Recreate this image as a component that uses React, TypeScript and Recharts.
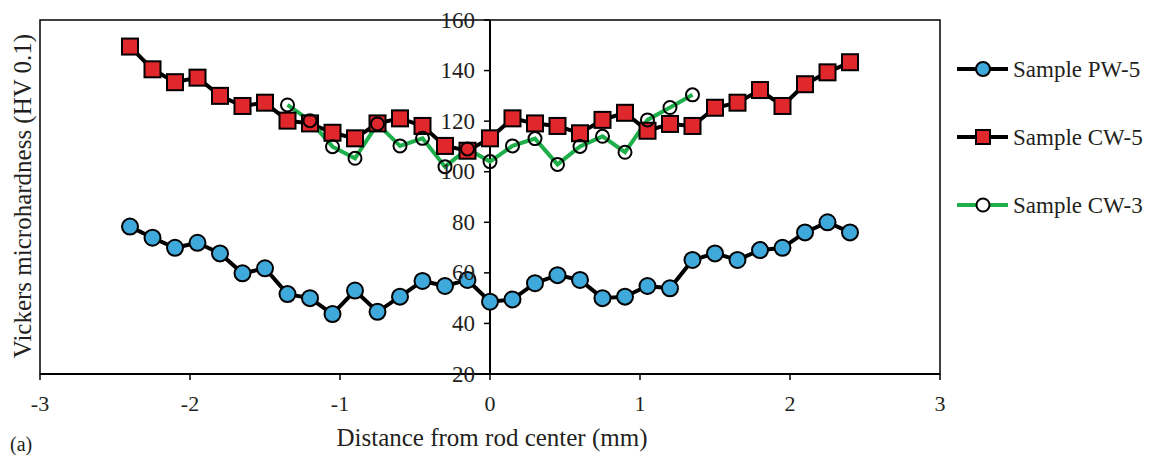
import React from "react"
import { LineChart, Line, XAxis, YAxis, ReferenceLine, ReferenceArea, Legend } from "recharts"

const FONT = "Liberation Serif, Times New Roman, serif"
const TEXT = "#231f20"

// distance from rod center (mm)
const positions = [
	-2.4, -2.25, -2.1, -1.95, -1.8, -1.65, -1.5, -1.35, -1.2, -1.05, -0.9, -0.75, -0.6, -0.45, -0.3, -0.15, 0,
	0.15, 0.3, 0.45, 0.6, 0.75, 0.9, 1.05, 1.2, 1.35, 1.5, 1.65, 1.8, 1.95, 2.1, 2.25, 2.4,
]
const pw5 = [
	78.3, 73.9, 69.9, 71.9, 67.7, 59.8, 61.8, 51.6, 50, 43.7, 53, 44.6, 50.6, 56.8, 54.8, 57.2, 48.6,
	49.5, 55.9, 59.1, 57.2, 50, 50.6, 54.8, 53.9, 65.1, 67.7, 65.1, 69, 69.9, 76, 80, 76,
]
const cw5 = [
	149.5, 140.5, 135.4, 137.2, 130, 126, 127.3, 120.2, 119.1, 115.4, 113.2, 119.1, 121.1, 118.1, 110.2, 108.3, 113.2,
	121.1, 119.1, 118.1, 115.2, 120.5, 123.3, 116.2, 118.9, 118.1, 125.3, 127.3, 132.3, 126, 134.6, 139.3, 143.3,
]
const cw3Positions = [
	-1.35, -1.2, -1.05, -0.9, -0.75, -0.6, -0.45, -0.3, -0.15, 0, 0.15, 0.3, 0.45, 0.6, 0.75, 0.9, 1.05, 1.2, 1.35,
]
const cw3 = [
	126.4, 120.2, 109.9, 105.3, 118.9, 110.2, 113.2, 102, 109, 104, 110.2, 113.1, 102.9, 110, 114, 107.7, 120.5, 125.4,
	130.4,
]

const xTicks = [-3, -2, -1, 0, 1, 2, 3]
const yTicks = [20, 40, 60, 80, 100, 120, 140, 160]

const seriesNames = ["Sample PW-5", "Sample CW-5", "Sample CW-3"]

const data = positions.map((x, i) => {
	const j = cw3Positions.indexOf(x)
	return { x, pw5: pw5[i], cw5: cw5[i], cw3: j >= 0 ? cw3[j] : undefined }
})

const BLUE = "#3fa9db"
const RED = "#e0272b"
const GREEN = "#1eae4a"

// the y axis crosses at x = 0, in the middle of the plot
const Y_AXIS_X = 490

function YTick(props: any) {
	const { y, payload } = props
	return (
		<g>
			<line x1={Y_AXIS_X - 6} x2={Y_AXIS_X} y1={y} y2={y} stroke="#000" strokeWidth={1.5} />
			<text
				x={Y_AXIS_X - 15}
				y={y}
				textAnchor="end"
				dominantBaseline="central"
				fontFamily={FONT}
				fontSize={23}
				fill={TEXT}
			>
				{payload.value}
			</text>
		</g>
	)
}

function SquareDot(props: any) {
	const { cx, cy, index } = props
	if (cx == null || cy == null) return <g key={`sq-${index}`} />
	return (
		<rect
			key={`sq-${index}`}
			x={cx - 8}
			y={cy - 8}
			width={16}
			height={16}
			fill={RED}
			stroke="#000"
			strokeWidth={2}
		/>
	)
}

function LegendBox() {
	const rows = [0, 68, 136]
	return (
		<svg width={199} height={180}>
			{seriesNames.map((name, i) => {
				const cy = 19 + rows[i]
				return (
					<g key={name}>
						<line x1={7} x2={58} y1={cy} y2={cy} stroke={i === 2 ? GREEN : "#000"} strokeWidth={4} />
						{i === 0 && <circle cx={33} cy={cy} r={7} fill={BLUE} stroke="#000" strokeWidth={2} />}
						{i === 1 && (
							<rect x={26} y={cy - 7} width={14} height={14} fill={RED} stroke="#000" strokeWidth={2} />
						)}
						{i === 2 && <circle cx={33} cy={cy} r={6.5} fill="#fff" stroke="#000" strokeWidth={2} />}
						<text x={63} y={cy} dominantBaseline="central" fontFamily={FONT} fontSize={23} fill={TEXT}>
							{name}
						</text>
					</g>
				)
			})}
		</svg>
	)
}

export default function App() {
	return (
		<div style={{ position: "absolute", left: 0, top: 0, width: 1149, height: 455, background: "#fff" }}>
			<LineChart width={1149} height={455} data={data} margin={{ top: 20, right: 209, left: 0, bottom: 41 }}>
				<XAxis
					dataKey="x"
					type="number"
					domain={[-3, 3]}
					ticks={xTicks}
					height={40}
					axisLine={{ stroke: "#000", strokeWidth: 2 }}
					tickLine={{ stroke: "#000", strokeWidth: 1.5 }}
					tickSize={6}
					tickMargin={15}
					tick={{ fontFamily: FONT, fontSize: 22, fill: TEXT }}
					label={{
						content: () => (
							<text x={492} y={437} textAnchor="middle" dominantBaseline="central" fontFamily={FONT} fontSize={25} fill={TEXT}>
								Distance from rod center (mm)
							</text>
						),
					}}
				/>
				<YAxis
					type="number"
					domain={[20, 160]}
					ticks={yTicks}
					width={40}
					axisLine={false}
					tickLine={false}
					tick={<YTick />}
					label={{
						content: () => (
							<text
								x={22}
								y={196}
								transform="rotate(-90 22 196)"
								textAnchor="middle"
								dominantBaseline="central"
								fontFamily={FONT}
								fontSize={25}
								fill={TEXT}
							>
								Vickers microhardness (HV 0.1)
							</text>
						),
					}}
				/>
				<ReferenceArea x1={-3} x2={3} y1={20} y2={160} fill="none" stroke="#000" strokeWidth={1.5} />
				<ReferenceLine x={0} stroke="#000" strokeWidth={2} />
				<Legend
					layout="vertical"
					align="center"
					verticalAlign="middle"
					content={() => <LegendBox />}
					wrapperStyle={{ left: 950, top: 50, width: 199, height: 180 }}
				/>
				<Line
					dataKey="pw5"
					name={seriesNames[0]}
					stroke="#000"
					strokeWidth={4}
					dot={{ r: 8, fill: BLUE, stroke: "#000", strokeWidth: 2 }}
					isAnimationActive={false}
				/>
				<Line
					dataKey="cw5"
					name={seriesNames[1]}
					stroke="#000"
					strokeWidth={4}
					dot={SquareDot}
					isAnimationActive={false}
				/>
				<Line
					dataKey="cw3"
					name={seriesNames[2]}
					stroke={GREEN}
					strokeWidth={4}
					dot={{ r: 6.5, fill: "none", stroke: "#000", strokeWidth: 2 }}
					isAnimationActive={false}
				/>
			</LineChart>
			<div
				style={{
					position: "absolute",
					left: 10,
					top: 434,
					fontFamily: FONT,
					fontSize: 20,
					color: TEXT,
					lineHeight: "20px",
				}}
			>
				(a)
			</div>
		</div>
	)
}
